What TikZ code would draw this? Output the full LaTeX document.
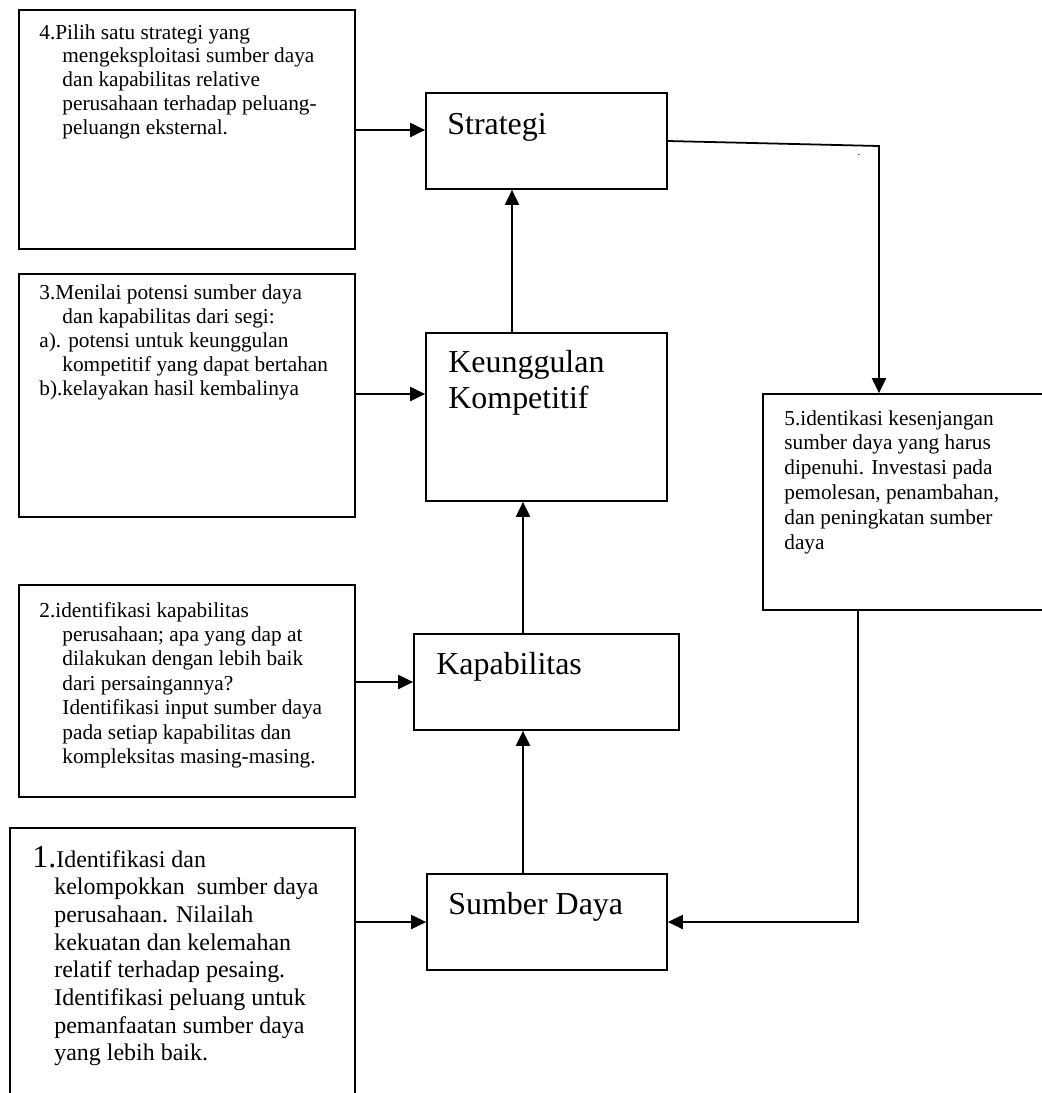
\documentclass[tikz,border=0pt]{standalone}
\usepackage{fontspec}
\setmainfont{Liberation Serif}
\usetikzlibrary{arrows.meta,fit}
\tikzset{
  box/.style={draw, line width=1pt, inner sep=0pt, rectangle},
  txt/.style={anchor=base west, inner sep=0pt, align=left},
  big/.style={anchor=base west, inner sep=0pt, font=\fontsize{18}{20.5}\selectfont},
  arr/.style={line width=1pt, -{Triangle[length=8.5pt,width=8pt]}},
  ln/.style={line width=1pt}
}
\newcommand{\ind}{\hspace*{13pt}}
\begin{document}
\begin{tikzpicture}[x=0.5634pt, y=-0.5634pt]
\clip (0,0) rectangle (1042,1093);
\fill[white] (0,0) rectangle (1042,1093);

% left description boxes
\node[box, fit={(19,10)(355,249)}] (b4) {};
\node[box, fit={(19,274)(355,517)}] (b3) {};
\node[box, fit={(19,585)(355,797)}] (b2) {};
\node[box, fit={(10,828)(355,1120)}] (b1) {};
\node[box, fit={(763,394)(1070,610)}] (b5) {};

% central boxes
\node[box, fit={(426,93)(667,189)}] (strat) {};
\node[box, fit={(426,333)(667,501)}] (keu) {};
\node[box, fit={(414,634)(679,730)}] (kap) {};
\node[box, fit={(427,874)(667,970)}] (sd) {};

% texts
\node[txt] (t4) at (39,39) {\parbox[t]{300pt}{\fontsize{12}{13.5}\selectfont
4.Pilih satu strategi yang\\
\ind mengeksploitasi sumber daya\\
\ind dan kapabilitas relative\\
\ind perusahaan terhadap peluang-\\
\ind peluangn eksternal.}};

\node[txt] (t3) at (39,299) {\parbox[t]{300pt}{\fontsize{12}{13.6}\selectfont
3.Menilai potensi sumber daya\\
\ind dan kapabilitas dari segi:\\
a). potensi untuk keunggulan\\
\ind kompetitif yang dapat bertahan\\
b).kelayakan hasil kembalinya}};

\node[txt] (t2) at (39,617) {\parbox[t]{300pt}{\fontsize{12}{13.8}\selectfont
2.identifikasi kapabilitas\\
\ind perusahaan; apa yang dap at\\
\ind dilakukan dengan lebih baik\\
\ind dari persaingannya?\\
\ind Identifikasi input sumber daya\\
\ind pada setiap kapabilitas dan\\
\ind kompleksitas masing-masing.}};

\node[txt] (t1) at (32,867) {\parbox[t]{300pt}{\fontsize{13.5}{15.6}\selectfont
{\fontsize{18}{18}\selectfont 1.}Identifikasi dan\\
\hspace*{12.4pt}kelompokkan\ \ sumber daya\\
\hspace*{12.4pt}perusahaan. Nilailah\\
\hspace*{12.4pt}kekuatan dan kelemahan\\
\hspace*{12.4pt}relatif terhadap pesaing.\\
\hspace*{12.4pt}Identifikasi peluang untuk\\
\hspace*{12.4pt}pemanfaatan sumber daya\\
\hspace*{12.4pt}yang lebih baik.}};

\node[txt] (t5) at (784,425) {\parbox[t]{300pt}{\fontsize{12}{14}\selectfont
5.identikasi kesenjangan\\
sumber daya yang harus\\
dipenuhi. Investasi pada\\
pemolesan, penambahan,\\
dan peningkatan sumber\\
daya}};

\node[big] (ls) at (447,134) {Strategi};
\node[big] (lk) at (448,372) {\parbox[t]{150pt}{\fontsize{18}{20.3}\selectfont Keunggulan\\Kompetitif}};
\node[big] (lkap) at (436,674) {Kapabilitas};
\node[big] (lsd) at (448,914) {Sumber Daya};

\node[inner sep=0pt, font=\fontsize{6}{6}\selectfont] (dot) at (859,155) {.};

% helper coordinates
\coordinate (y4) at (0,130);
\coordinate (y3) at (0,394);
\coordinate (y2) at (0,682);
\coordinate (y1) at (0,922);
\coordinate (xa) at (512,0);
\coordinate (xb) at (523,0);
\coordinate (c1) at (879,146);
\coordinate (c2) at (858,922);

% connectors
\draw[arr] (b4.east |- y4) -- (strat.west |- y4);
\draw[arr] (b3.east |- y3) -- (keu.west |- y3);
\draw[arr] (b2.east |- y2) -- (kap.west |- y2);
\draw[arr] (b1.east |- y1) -- (sd.west |- y1);
\draw[arr] (keu.north -| xa) -- (strat.south -| xa);
\draw[arr] (kap.north -| xb) -- (keu.south -| xb);
\draw[arr] (sd.north -| xb) -- (kap.south -| xb);
\draw[arr] (strat.east) -- (c1) -- (b5.north -| c1);
\draw[arr] (b5.south -| c2) -- (c2) -- (sd.east);
\end{tikzpicture}
\end{document}
